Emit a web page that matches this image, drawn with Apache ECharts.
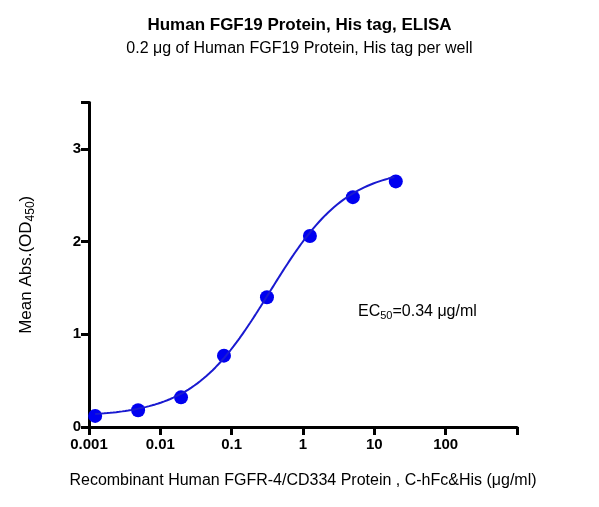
<!DOCTYPE html><html><head><meta charset="utf-8"><script src="https://cdn.jsdelivr.net/npm/echarts@6/dist/echarts.min.js"></script></head><body style="margin:0"><div id="c" style="width:599px;height:507px"></div><script>
const conc=[0.00122,0.00488,0.0195,0.078,0.3125,1.25,5,20];
const od=[0.12,0.18,0.32,0.77,1.40,2.06,2.48,2.65];
const fit={bottom:0.11,top:2.8,ec50:0.34,hill:0.8};
const xTicks=['0.001','0.01','0.1','1','10','100'];
const curve=[];
for(let i=0;i<=200;i++){const x=Math.pow(10,Math.log10(0.00122)+i*(Math.log10(20)-Math.log10(0.00122))/200);
curve.push([x,fit.bottom+(fit.top-fit.bottom)/(1+Math.pow(fit.ec50/x,fit.hill))]);}
const ch=echarts.init(document.getElementById('c'));
const ax={lineStyle:{color:'#000',width:3}};
ch.setOption({
title:[{text:'Human FGF19 Protein, His tag, ELISA',left:'center',top:12,textStyle:{fontFamily:'Liberation Sans',fontSize:17,fontWeight:'bold',color:'#000'}},
{text:'0.2 μg of Human FGF19 Protein, His tag per well',left:'center',top:36,textStyle:{fontFamily:'Liberation Sans',fontSize:16,fontWeight:'normal',color:'#000'}}],
grid:{left:89,right:82,top:102.6,bottom:80},
xAxis:{type:'log',min:0.001,max:1000,logBase:10,axisLine:ax,axisTick:{length:8,lineStyle:{color:'#000',width:3}},minorTick:{show:false},splitLine:{show:false},
axisLabel:{fontFamily:'Liberation Sans',fontSize:15,fontWeight:'bold',color:'#000',margin:10,formatter:v=>{const s=xTicks.find(t=>Math.abs(Math.log10(+t)-Math.log10(v))<1e-6);return s||'';}},
name:'Recombinant Human FGFR-4/CD334 Protein , C-hFc&His (μg/ml)',nameLocation:'middle',nameGap:46,nameTextStyle:{fontFamily:'Liberation Sans',fontSize:16,color:'#000'}},
yAxis:{type:'value',min:0,max:3.5,interval:1,axisLine:{show:true,lineStyle:{color:'#000',width:3}},axisTick:{show:true,length:8,lineStyle:{color:'#000',width:3}},splitLine:{show:false},
axisLabel:{fontFamily:'Liberation Sans',fontSize:15,fontWeight:'bold',color:'#000',formatter:v=>Number.isInteger(v)?v:''},
name:'Mean Abs.(OD{s|450})',nameLocation:'middle',nameGap:52,nameTextStyle:{fontFamily:'Liberation Sans',fontSize:17,color:'#000',rich:{s:{fontSize:12,padding:[10,0,0,0],fontFamily:'Liberation Sans'}}}},
graphic:[{type:'text',left:358,top:304,style:{text:'EC{s|50}=0.34 μg/ml',rich:{s:{fontSize:11,padding:[8,0,0,0],fontFamily:'Liberation Sans'}},fontFamily:'Liberation Sans',fontSize:16,fill:'#000'}}],
series:[{type:'line',data:curve,showSymbol:false,lineStyle:{color:'#1a1ad0',width:2},silent:true},
{type:'scatter',data:conc.map((c,i)=>[c,od[i]]),symbolSize:14,itemStyle:{color:'#0000f0',opacity:1}}]
});
</script></body></html>
